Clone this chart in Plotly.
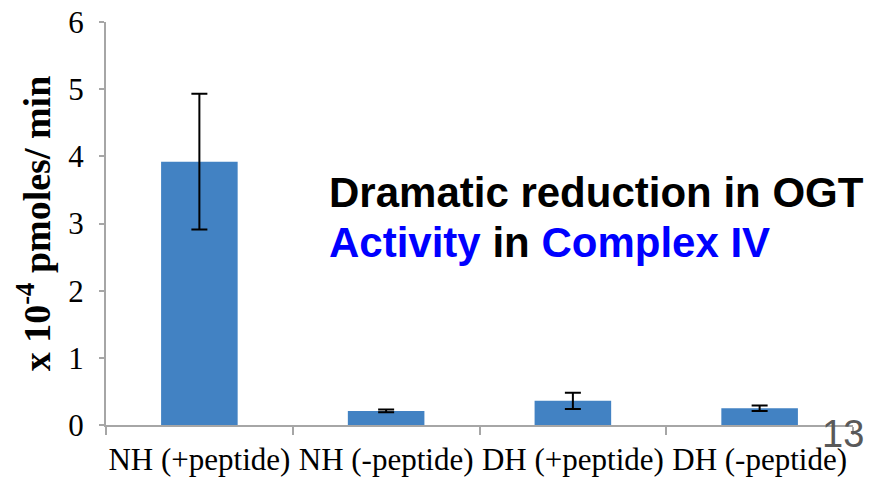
import plotly.graph_objects as go

categories = ["NH (+peptide)", "NH (-peptide)", "DH (+peptide)", "DH (-peptide)"]
values = [3.92, 0.21, 0.36, 0.25]
errors = [1.01, 0.02, 0.12, 0.04]
y_ticks = [0, 1, 2, 3, 4, 5, 6]

fig = go.Figure()
fig.add_trace(go.Bar(
    x=categories, y=values,
    marker=dict(color="#4282c3", line=dict(width=0)),
    error_y=dict(type="data", array=errors, visible=True, color="black",
                 thickness=2, width=8),
    width=0.41,
))

serif = "Liberation Serif, Times New Roman, serif"
sans = "Liberation Sans, Arial, sans-serif"

fig.update_layout(
    width=883, height=482,
    margin=dict(l=98, r=38, t=14, b=65),
    plot_bgcolor="white", paper_bgcolor="white",
    showlegend=False,
    xaxis=dict(
        showline=True, linecolor="#a6a6a6", linewidth=2,
        ticks="outside", tickson="boundaries", ticklen=8, tickcolor="#a6a6a6", tickwidth=2,
        tickfont=dict(family=serif, size=31, color="black"),
        ticklabelstandoff=6,
        tickangle=0, showgrid=False, automargin=False,
    ),
    yaxis=dict(
        range=[0, 6], tickvals=y_ticks,
        showline=True, linecolor="#a6a6a6", linewidth=2,
        ticks="outside", ticklen=5, tickcolor="#a6a6a6", tickwidth=2,
        tickfont=dict(family=serif, size=31, color="black"),
        ticklabelstandoff=9, ticklabeloverflow="allow",
        showgrid=False, zeroline=False, automargin=False,
        title=dict(text="<b>x 10<sup>-4</sup> pmoles/ min</b>",
                   font=dict(family=serif, size=38, color="black"), standoff=6),
    ),
)

# annotation positions expressed relative to plot area (page px: left 106, top 22, bottom 425)
def px_x(p):
    return (p - 106) / 747

def px_y(p):
    return 1 - (p - 22) / 403

fig.add_annotation(
    xref="paper", yref="paper", x=px_x(327), y=px_y(192),
    xanchor="left", yanchor="middle", showarrow=False,
    text="<b>Dramatic reduction in OGT</b>",
    font=dict(family=sans, size=42, color="black"),
)
fig.add_annotation(
    xref="paper", yref="paper", x=px_x(327), y=px_y(243),
    xanchor="left", yanchor="middle", showarrow=False,
    text="<b><span style='color:#0000ff'>Activity</span> in <span style='color:#0000ff'>Complex IV</span></b>",
    font=dict(family=sans, size=42, color="black"),
)
fig.add_annotation(
    xref="paper", yref="paper", x=px_x(866), y=px_y(434),
    xanchor="right", yanchor="middle", showarrow=False,
    text="13",
    font=dict(family=sans, size=38, color="#595959"),
)

fig.write_html("out.html")
